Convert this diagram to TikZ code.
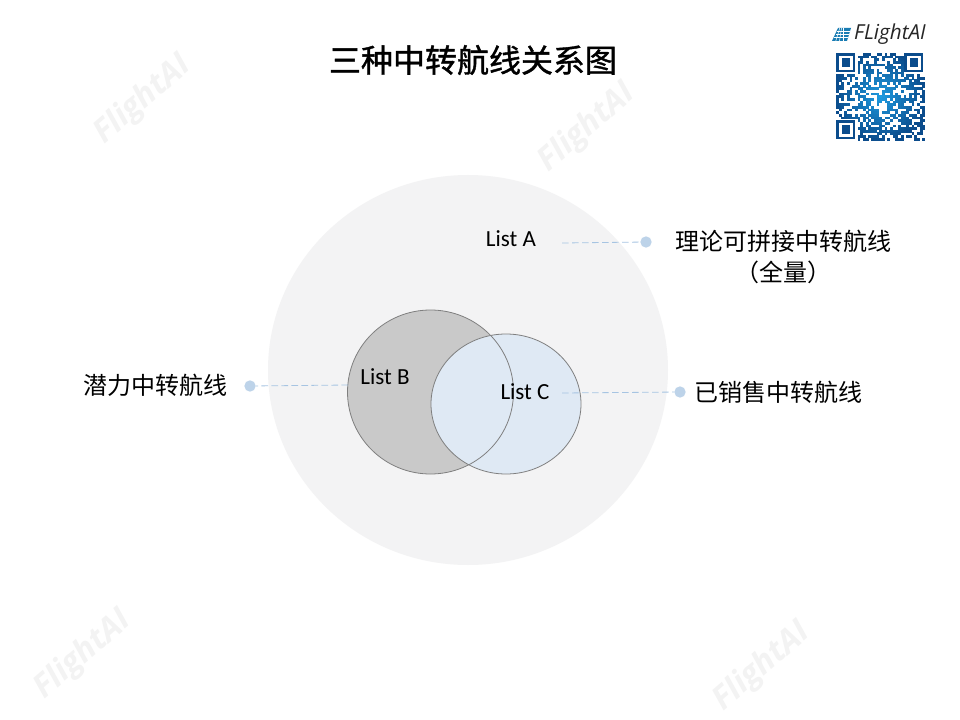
\documentclass[tikz,border=0pt]{standalone}
\usepackage{fontspec}
\setmainfont{Carlito}
\newfontfamily\cjk{Noto Sans CJK SC}
\newfontfamily\cjkt[FakeBold=1.2]{Noto Sans CJK SC}
\newfontfamily\wm{Open Sans}
\definecolor{bigc}{HTML}{F3F3F4}
\definecolor{midc}{HTML}{C9C9C9}
\definecolor{lightc}{HTML}{DFE9F4}
\definecolor{edgec}{HTML}{7F7F7F}
\definecolor{dotc}{HTML}{BDD3E9}
\definecolor{dashc}{HTML}{A6C4E2}
\definecolor{wmc}{HTML}{F3F3F3}
\definecolor{qrd}{HTML}{0B4C8C}
\definecolor{qrl}{HTML}{1E9BE0}
\tikzset{
  x=0.75pt,y=-0.75pt,
  venn/.style={draw=edgec,line width=0.6pt},
  lab/.style={font=\fontsize{17.3}{20}\selectfont,text=black,inner sep=0pt},
  captext/.style={font=\cjk\fontsize{18}{23}\selectfont,text=black,inner sep=0pt,align=center},
  leader/.style={draw=dashc,dash pattern=on 5pt off 2.5pt,line width=0.6pt},
  dotm/.style={circle,fill=dotc,minimum size=8.5pt,inner sep=0pt},
  wmark/.style={font=\wm\bfseries\itshape\fontsize{24}{28}\selectfont,text=wmc,rotate=41,inner sep=0pt},
  finder/.style={draw=qrd,line width=1.8pt,fill=white},
}
\begin{document}
\begin{tikzpicture}
\useasboundingbox (0,0) rectangle (960,720);
\fill[white] (0,0) rectangle (960,720);
% watermarks
\node[wmark] (w1) at (143,100) {FlightAI};
\node[wmark] (w2) at (587,128) {FlightAI};
\node[wmark] (w3) at (83,655) {FlightAI};
\node[wmark] (w4) at (762,667) {FlightAI};
% title
\node[font=\cjkt\fontsize{24}{28}\selectfont,inner sep=0pt] (title) at (473,60) {三种中转航线关系图};
% venn
\fill[bigc] (468,370) circle [x radius=200,y radius=195];
\draw[venn,fill=midc] (430.5,392) ellipse [x radius=83,y radius=82];
\draw[venn,fill=lightc] (506,404) ellipse [x radius=75,y radius=70];
\begin{scope}
  \clip (506,404) ellipse [x radius=75,y radius=70];
  \draw[venn] (430.5,392) ellipse [x radius=83,y radius=82];
\end{scope}
% labels
\node[lab] (la) at (511,239) {List A};
\node[lab] (lb) at (385,377) {List B};
\node[lab] (lc) at (525,392) {List C};
\node[dotm] (da) at (646,242) {};
\node[dotm] (db) at (250,386) {};
\node[dotm] (dc) at (680,392) {};
\coordinate (sa) at (562,243);
\coordinate (sb) at (348,385);
\coordinate (sc) at (562,393);
\draw[leader] (sa) -- (da);
\draw[leader] (sb) -- (db);
\draw[leader] (sc) -- (dc);
\node[captext] (ca) at (783,257) {理论可拼接中转航线\\（全量）};
\node[captext] (cb) at (155,385) {潜力中转航线};
\node[captext] (cc) at (778,392) {已销售中转航线};
% logo
\node[font=\wm\itshape\fontsize{15.5}{17}\selectfont,text=black!85,inner sep=0pt] (logo) at (890,34) {FLightAI};
\fill[qrl!80!black] (838,28) -- (851,28) -- (847,41) -- (832,41) -- cycle;
\foreach \i in {1,2,3} \draw[white,line width=0.4pt] (838-\i*1.2,28+\i*3.25) -- (851-\i*1.05,28+\i*3.25);
\foreach \i in {1,2,3} \draw[white,line width=0.4pt] (838+\i*3.25-\i*1.5,28) -- (832+\i*3.75,41);
% QR pattern
\pgfmathsetseed{4242}
\foreach \c in {0,...,32}{
  \foreach \r in {0,...,32}{
    \pgfmathsetmacro{\keep}{rnd}
    \pgfmathsetmacro{\dist}{sqrt((\c-16)^2+(\r-16)^2)}
    \pgfmathsetmacro{\mixv}{min(100,\dist*6)}
    \pgfmathparse{\keep<0.6?1:0}
    \pgfmathtruncatemacro{\on}{\pgfmathresult}
    \ifnum\on=1
      \fill[qrd!\mixv!qrl] (836+\c*2.7,53+\r*2.65) rectangle ++(2.8,2.75);
    \fi
  }
}
% finder patterns
\foreach \px/\py in {836/53,904/53,836/120}{
  \fill[white] (\px-0.5,\py-0.5) rectangle ++(22,22);
  \draw[finder] (\px+1.5,\py+1.5) rectangle ++(16.5,16.5);
  \fill[qrd] (\px+5.5,\py+5.5) rectangle ++(8.5,8.5);
}
\end{tikzpicture}
\end{document}
